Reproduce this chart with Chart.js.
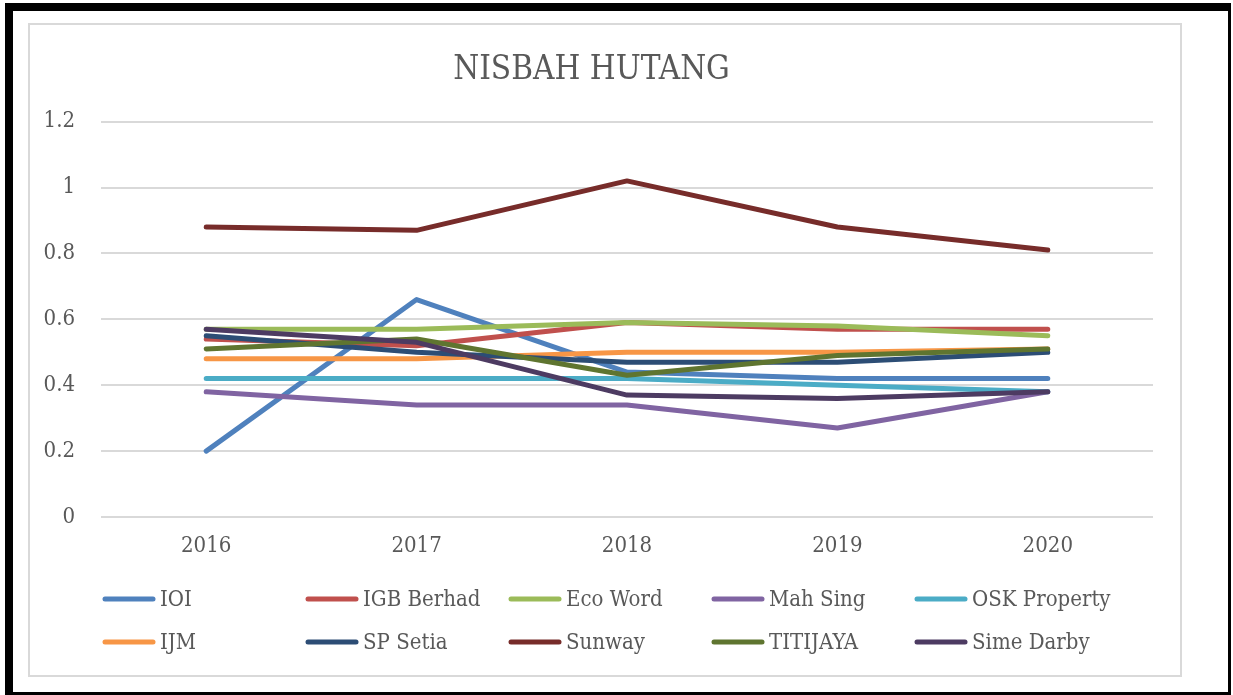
<!DOCTYPE html>
<html>
<head>
<meta charset="utf-8">
<script src="https://cdn.jsdelivr.net/npm/chart.js@4/dist/chart.umd.min.js"></script>
<style>
  body { margin: 0; background: #fff; }
  .frame {
    position: absolute; left: 5px; top: 3px; width: 1215px; height: 681px;
    border-left: 8px solid #000; border-top: 8px solid #000;
    border-right: 3px solid #000; border-bottom: 3px solid #000;
  }
  .box {
    position: absolute; left: 28px; top: 23px; width: 1150px; height: 650px;
    border: 2px solid #d9d9d9; background: #fff;
  }
  canvas { position: absolute; left: 0; top: 0; }
</style>
</head>
<body>
<div class="frame"></div>
<div class="box"><canvas id="myChart" width="1150" height="650"></canvas></div>
<script>
const years = ['2016', '2017', '2018', '2019', '2020'];
const yTicks = ['0', '0.2', '0.4', '0.6', '0.8', '1', '1.2'];

const ioi       = [0.20, 0.66, 0.44, 0.42, 0.42];
const igb       = [0.54, 0.52, 0.59, 0.57, 0.57];
const ecoWord   = [0.57, 0.57, 0.59, 0.58, 0.55];
const mahSing   = [0.38, 0.34, 0.34, 0.27, 0.38];
const osk       = [0.42, 0.42, 0.42, 0.40, 0.38];
const ijm       = [0.48, 0.48, 0.50, 0.50, 0.51];
const spSetia   = [0.55, 0.50, 0.47, 0.47, 0.50];
const sunway    = [0.88, 0.87, 1.02, 0.88, 0.81];
const titijaya  = [0.51, 0.54, 0.43, 0.49, 0.51];
const simeDarby = [0.57, 0.53, 0.37, 0.36, 0.38];

const names  = ['IOI', 'IGB Berhad', 'Eco Word', 'Mah Sing', 'OSK Property',
                'IJM', 'SP Setia', 'Sunway', 'TITIJAYA', 'Sime Darby'];
const series = [ioi, igb, ecoWord, mahSing, osk, ijm, spSetia, sunway, titijaya, simeDarby];
const colors = ['#4F81BD', '#C0504D', '#9BBB59', '#8064A2', '#4BACC6',
                '#F79646', '#2C4D75', '#772C2A', '#5F7530', '#4D3B62'];

const fontFam = '"DejaVu Serif Condensed", "DejaVu Serif", "Liberation Serif", serif';
const grey = '#595959';

// legend drawn as a 5-column grid like the office chart
const gridLegend = {
  id: 'gridLegend',
  afterDraw(chart) {
    const c = chart.ctx;
    c.save();
    c.font = '22px ' + fontFam;
    c.textBaseline = 'middle';
    names.forEach((n, i) => {
      const x = 75 + (i % 5) * 203;
      const y = 574 + Math.floor(i / 5) * 43;
      c.strokeStyle = colors[i];
      c.lineWidth = 5;
      c.lineCap = 'round';
      c.beginPath();
      c.moveTo(x, y);
      c.lineTo(x + 48, y);
      c.stroke();
      c.fillStyle = grey;
      c.fillText(n, x + 55, y + 1);
    });
    c.restore();
  }
};

const ctx = document.getElementById('myChart').getContext('2d');
new Chart(ctx, {
  type: 'line',
  data: {
    labels: years,
    datasets: series.map((d, i) => ({
      label: names[i],
      data: d,
      borderColor: colors[i],
      backgroundColor: colors[i],
      borderWidth: 5,
      borderCapStyle: 'round',
      borderJoinStyle: 'round',
      pointRadius: 0,
      tension: 0,
      order: series.length - i
    }))
  },
  options: {
    responsive: false,
    animation: false,
    layout: { padding: { left: 0, right: 27, top: 0, bottom: 100 } },
    plugins: {
      legend: { display: false },
      tooltip: { enabled: false },
      title: {
        display: true,
        text: 'NISBAH HUTANG',
        color: grey,
        font: { family: fontFam, size: 33, weight: 'normal' },
        padding: { top: 26, bottom: 31 }
      }
    },
    scales: {
      x: {
        offset: true,
        grid: { display: false },
        border: { display: false },
        ticks: { color: grey, font: { family: fontFam, size: 22 }, padding: 8 },
        afterFit(scale) { scale.height = 58; }
      },
      y: {
        min: 0,
        max: 1.2,
        grid: { color: '#d9d9d9', lineWidth: 2, drawTicks: false },
        border: { display: false },
        ticks: {
          stepSize: 0.2,
          color: grey,
          font: { family: fontFam, size: 22 },
          padding: 26,
          callback: (v, i) => yTicks[i]
        },
        afterFit(scale) { scale.width = 71; }
      }
    }
  },
  plugins: [gridLegend]
});
</script>
</body>
</html>
